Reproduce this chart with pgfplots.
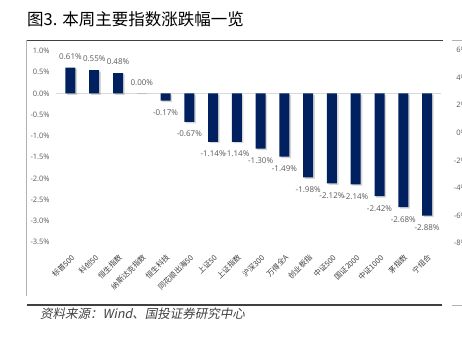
\documentclass[border=0pt]{standalone}
\usepackage{pgfplots}
\usepackage{pgfplotstable}
\pgfplotsset{compat=1.18}
\usepackage{fontspec}
\setmainfont{Open Sans}
\newfontfamily\cjk{Noto Sans CJK SC}
\newfontfamily\cjksl{Noto Sans CJK SC}[FakeSlant=0.2]
\definecolor{navy}{HTML}{002060}
\definecolor{ticktext}{HTML}{595959}
\definecolor{cattext}{HTML}{404040}
\definecolor{zeroline}{HTML}{D9D9D9}
\definecolor{rule}{HTML}{404040}

\pgfplotstableread{
x y lab
0 0.61 0.61
1 0.55 0.55
2 0.48 0.48
3 0.00 0.00
4 -0.17 -0.17
5 -0.67 -0.67
6 -1.14 -1.14
7 -1.14 -1.14
8 -1.30 -1.30
9 -1.49 -1.49
10 -1.98 -1.98
11 -2.12 -2.12
12 -2.14 -2.14
13 -2.42 -2.42
14 -2.68 -2.68
15 -2.88 -2.88
}\weekdata

\begin{document}
\begin{tikzpicture}
% title and rules
\node[anchor=base west, inner sep=0pt, font=\cjk\fontsize{16.5}{18}\selectfont, text=black] at (27pt,314pt) {图3. 本周主要指数涨跌幅一览};
\draw[rule, line width=1.3pt] (27pt,299.5pt) -- (443pt,299.5pt);
\draw[gray!60, line width=0.6pt] (452pt,299.2pt) -- (470pt,299.2pt);
\draw[gray!60, line width=0.6pt] (26.7pt,300pt) -- (26.7pt,44pt);
\draw[rule, line width=1.3pt] (27pt,35pt) -- (442pt,35pt);
\draw[gray!60, line width=0.6pt] (452pt,34.5pt) -- (470pt,34.5pt);
\node[anchor=base west, inner sep=0pt, font=\cjksl\fontsize{12.5}{14}\selectfont, text=cattext] at (40pt,22pt) {资料来源：Wind、国投证券研究中心};
% clipped right-hand axis labels of the neighbouring chart
\foreach \v/\yy in {6\%/290,4\%/262.4,2\%/234.8,0\%/207.2,-2\%/179.6,-4\%/152,-6\%/124.4,-8\%/96.8}{
  \node[anchor=east, inner sep=0pt, font=\fontsize{7.5}{8}\selectfont, text=ticktext] at (467pt,\yy pt) {\v};
}
\begin{axis}[
  at={(56.2pt,87.8pt)}, anchor=south west,
  scale only axis, width=385.1pt, height=201.2pt,
  xmin=-0.6, xmax=15.6, ymin=-3.74, ymax=1.0,
  axis line style={draw=none},
  major tick length=0pt,
  clip=false,
  xtick={0,...,15},
  xticklabels={标普500,科创50,恒生指数,纳斯达克指数,恒生科技,同花顺出海50,上证50,上证指数,沪深300,万得全A,创业板指,中证500,国证2000,中证1000,茅指数,宁组合},
  xticklabel style={font=\cjk\fontsize{7.5}{8}\selectfont, text=cattext, rotate=45, anchor=north east, inner sep=1pt},
  ytick={-3.5,-3,-2.5,-2,-1.5,-1,-0.5,0,0.5,1},
  yticklabels={-3.5\%,-3.0\%,-2.5\%,-2.0\%,-1.5\%,-1.0\%,-0.5\%,0.0\%,0.5\%,1.0\%},
  yticklabel style={font=\fontsize{7.5}{8}\selectfont, text=ticktext, xshift=-3pt},
]
\draw[zeroline, line width=0.8pt] (axis cs:-0.6,0) -- (axis cs:15.6,0);
\addplot[ybar, bar width=10pt, bar shift=1.6pt, fill=black, fill opacity=0.16, draw=none, yshift=-1.4pt, forget plot] table[x=x, y=y] {\weekdata};
\addplot[ybar, bar width=10pt, bar shift=0pt, fill=navy, draw=none,
  point meta=explicit symbolic,
  visualization depends on={rawy \as \rawy},
  nodes near coords={\pgfplotspointmeta\%},
  every node near coord/.append style={font=\fontsize{8}{9}\selectfont, text=ticktext, anchor=center, inner sep=0pt, yshift={\rawy<0 ? -12 : 11}, fill opacity=1, text opacity=1},
] table[x=x, y=y, meta=lab] {\weekdata};
\end{axis}
\pgfresetboundingbox
\useasboundingbox (0,0) rectangle (462pt,340pt);
\end{tikzpicture}
\end{document}
